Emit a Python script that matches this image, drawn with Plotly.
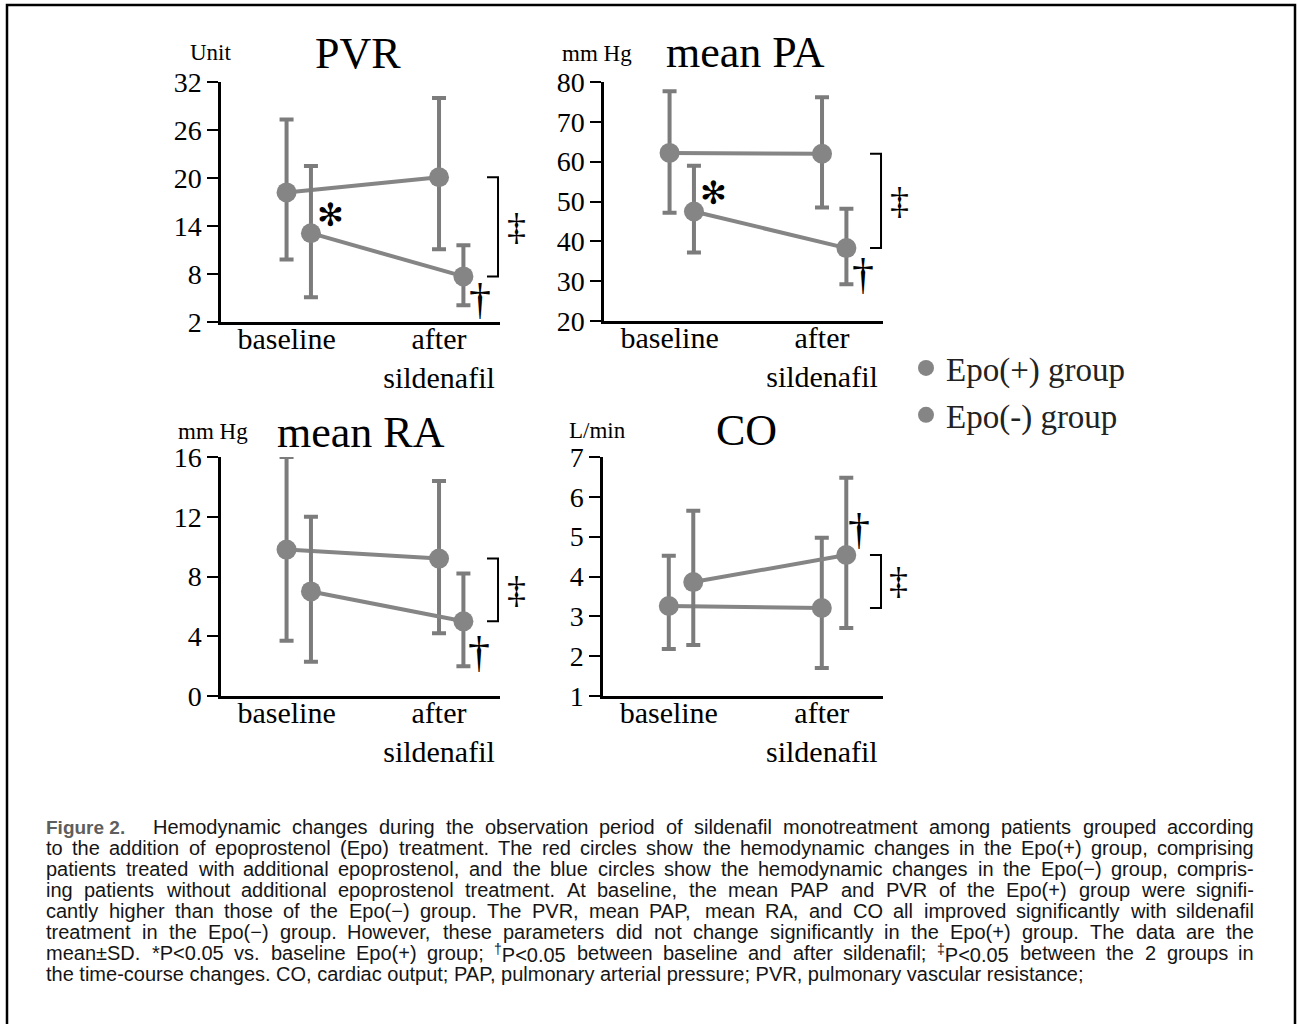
import re
import plotly.graph_objects as go

W, H = 1298, 1024
SERIF = "Liberation Serif, Times New Roman, serif"
SANS = "Liberation Sans, Arial, sans-serif"

# ---------------- data ----------------
groups = ["Epo(+) group", "Epo(-) group"]
categories = ["baseline", "after<br>sildenafil"]
panel_titles = ["PVR", "mean PA", "mean RA", "CO"]
unit_labels = ["Unit", "mm Hg", "mm Hg", "L/min"]

pvr_pos_mean = [18.2, 20.1]
pvr_pos_hi = [27.3, 30.0]
pvr_pos_lo = [9.8, 11.1]
pvr_neg_mean = [13.1, 7.7]
pvr_neg_hi = [21.5, 11.6]
pvr_neg_lo = [5.1, 4.1]
pvr_ticks = [2, 8, 14, 20, 26, 32]

pa_pos_mean = [62.2, 62.0]
pa_pos_hi = [77.7, 76.2]
pa_pos_lo = [47.2, 48.5]
pa_neg_mean = [47.5, 38.3]
pa_neg_hi = [59.0, 48.2]
pa_neg_lo = [37.2, 29.2]
pa_ticks = [20, 30, 40, 50, 60, 70, 80]

ra_pos_mean = [9.8, 9.2]
ra_pos_hi = [16.0, 14.4]
ra_pos_lo = [3.7, 4.2]
ra_neg_mean = [7.0, 5.0]
ra_neg_hi = [12.0, 8.2]
ra_neg_lo = [2.3, 2.0]
ra_ticks = [0, 4, 8, 12, 16]

co_pos_mean = [3.26, 3.21]
co_pos_hi = [4.52, 4.97]
co_pos_lo = [2.18, 1.70]
co_neg_mean = [3.86, 4.54]
co_neg_hi = [5.65, 6.48]
co_neg_lo = [2.28, 2.71]
co_ticks = [1, 2, 3, 4, 5, 6, 7]

caption_label = "Figure 2."
caption_lines = [
    "Hemodynamic changes during the observation period of sildenafil monotreatment among patients grouped according",
    "to the addition of epoprostenol (Epo) treatment. The red circles show the hemodynamic changes in the Epo(+) group, comprising",
    "patients treated with additional epoprostenol, and the blue circles show the hemodynamic changes in the Epo(\u2212) group, compris-",
    "ing patients without additional epoprostenol treatment. At baseline, the mean PAP and PVR of the Epo(+) group were signifi-",
    "cantly higher than those of the Epo(\u2212) group. The PVR, mean PAP, mean RA, and CO all improved significantly with sildenafil",
    "treatment in the Epo(\u2212) group. However, these parameters did not change significantly in the Epo(+) group. The data are the",
    "mean\u00b1SD. *P&lt;0.05 vs. baseline Epo(+) group; <sup>\u2020</sup>P&lt;0.05 between baseline and after sildenafil; <sup>\u2021</sup>P&lt;0.05 between the 2 groups in",
    "the time-course changes. CO, cardiac output; PAP, pulmonary arterial pressure; PVR, pulmonary vascular resistance;",
]

# ---------------- layout helpers (pixels -> paper) ----------------
def px(x):
    return x / W

def py(y):
    return 1 - y / H

# Arial / Liberation Sans advance widths (1/1000 em) used to justify the caption
_AW = {" ": 278, "(": 333, ")": 333, "*": 389, "+": 584, ",": 278, "-": 333, ".": 278, ":": 278,
       ";": 278, "<": 584, "\u00b1": 584, "\u2212": 584, "\u2020": 556, "\u2021": 556}
for ch in "0123456789":
    _AW[ch] = 556
_AW.update(dict(zip("ABCDEFGHIJKLMNOPQRSTUVWXYZ",
                    [667, 667, 722, 722, 667, 611, 778, 722, 278, 500, 667, 556, 833, 722, 778, 667,
                     778, 722, 667, 611, 722, 667, 944, 667, 667, 611])))
_AW.update(dict(zip("abcdefghijklmnopqrstuvwxyz",
                    [556, 556, 500, 556, 556, 278, 556, 556, 222, 222, 500, 222, 833, 556, 556, 556,
                     556, 333, 500, 278, 556, 500, 722, 500, 500, 500])))

def text_width(t, size):
    t = t.replace("&lt;", "<")
    total = 0.0
    for part in re.split(r"(<sup>.*?</sup>)", t):
        if part.startswith("<sup>"):
            inner = part[5:-6]
            total += 0.7 * sum(_AW.get(c, 556) for c in inner)
        else:
            total += sum(_AW.get(c, 556) for c in part)
    return total * size / 1000.0

panels = [
    dict(title=panel_titles[0], unit=unit_labels[0], ticks=pvr_ticks,
         pos=(pvr_pos_mean, pvr_pos_hi, pvr_pos_lo), neg=(pvr_neg_mean, pvr_neg_hi, pvr_neg_lo),
         box=(221, 500, 82, 322), title_xy=(358, 53), unit_xy=(211, 52),
         star=True, dag=(17, -23)),
    dict(title=panel_titles[1], unit=unit_labels[1], ticks=pa_ticks,
         pos=(pa_pos_mean, pa_pos_hi, pa_pos_lo), neg=(pa_neg_mean, pa_neg_hi, pa_neg_lo),
         box=(604, 883, 82, 321), title_xy=(745, 52), unit_xy=(597, 53),
         star=True, dag=(17, -26)),
    dict(title=panel_titles[2], unit=unit_labels[2], ticks=ra_ticks,
         pos=(ra_pos_mean, ra_pos_hi, ra_pos_lo), neg=(ra_neg_mean, ra_neg_hi, ra_neg_lo),
         box=(221, 500, 457, 696), title_xy=(361, 432), unit_xy=(213, 431),
         star=False, dag=(16, -31)),
    dict(title=panel_titles[3], unit=unit_labels[3], ticks=co_ticks,
         pos=(co_pos_mean, co_pos_hi, co_pos_lo), neg=(co_neg_mean, co_neg_hi, co_neg_lo),
         box=(603, 883, 457, 696), title_xy=(746, 430), unit_xy=(597, 430),
         star=False, dag=(13, 25)),
]

XRANGE = [-0.43, 1.40]
NEG_OFFSET = 0.16
PX_PER_UNIT = 279 / (XRANGE[1] - XRANGE[0])
GRAY = "#858585"
BAR_GRAY = "#7c7c7c"

fig = go.Figure()
annotations = []
shapes = []
layout_axes = {}

for i, p in enumerate(panels, start=1):
    xa = "x" if i == 1 else f"x{i}"
    ya = "y" if i == 1 else f"y{i}"
    x0, x1, y0, y1 = p["box"]
    layout_axes["xaxis" if i == 1 else f"xaxis{i}"] = dict(
        domain=[px(x0), px(x1)], anchor=ya, range=XRANGE, automargin=False,
        tickvals=[0, 1], ticktext=categories, ticks="", ticklabelstandoff=-12,
        showline=True, linecolor="black", linewidth=2.5, showgrid=False, zeroline=False,
        tickfont=dict(family=SERIF, size=30, color="black"), fixedrange=True,
    )
    layout_axes["yaxis" if i == 1 else f"yaxis{i}"] = dict(
        domain=[py(y1), py(y0)], anchor=xa, range=[p["ticks"][0], p["ticks"][-1]], automargin=False,
        tickvals=p["ticks"], ticks="outside", ticklen=11, tickwidth=2, tickcolor="black",
        showline=True, linecolor="black", linewidth=2.5, showgrid=False, zeroline=False,
        tickfont=dict(family=SERIF, size=28, color="black"), fixedrange=True,
    )
    for g, key in enumerate(["pos", "neg"]):
        mean, hi, lo = p[key]
        xs = [c + (NEG_OFFSET if g == 1 else 0) for c in range(len(categories))]
        fig.add_trace(go.Scatter(
            x=xs, y=mean, mode="lines", line=dict(color=GRAY, width=4),
            xaxis=xa, yaxis=ya, showlegend=False, hoverinfo="skip"))
        fig.add_trace(go.Scatter(
            x=xs, y=mean, mode="markers", name=groups[g],
            marker=dict(color=GRAY, size=20, line=dict(width=0)),
            error_y=dict(type="data", symmetric=False,
                         array=[h - m for h, m in zip(hi, mean)],
                         arrayminus=[m - l for m, l in zip(mean, lo)],
                         color=BAR_GRAY, thickness=4, width=7),
            xaxis=xa, yaxis=ya, showlegend=(i == 1), legendgroup=groups[g]))

    annotations.append(dict(x=px(p["title_xy"][0]), y=py(p["title_xy"][1]), xref="paper", yref="paper",
                            text=p["title"], showarrow=False, xanchor="center", yanchor="middle",
                            font=dict(family=SERIF, size=44, color="black")))
    annotations.append(dict(x=px(p["unit_xy"][0]), y=py(p["unit_xy"][1]), xref="paper", yref="paper",
                            text=p["unit"], showarrow=False, xanchor="center", yanchor="middle",
                            borderpad=0, font=dict(family=SERIF, size=23, color="black")))

    pos_mean = p["pos"][0]
    neg_mean = p["neg"][0]
    if p["star"]:
        annotations.append(dict(x=NEG_OFFSET, y=neg_mean[0], xref=xa, yref=ya, text="\u273B",
                                showarrow=False, xshift=20, yshift=18,
                                font=dict(family="DejaVu Sans", size=32, color="black")))
    annotations.append(dict(x=1 + NEG_OFFSET, y=neg_mean[1], xref=xa, yref=ya, text="\u2020",
                            showarrow=False, xshift=p["dag"][0], yshift=p["dag"][1],
                            font=dict(family=SERIF, size=44, color="black")))
    bx0 = 1 + 48 / PX_PER_UNIT
    bx1 = 1 + 59 / PX_PER_UNIT
    ya_v, yb_v = pos_mean[1], neg_mean[1]
    shapes.append(dict(type="path", xref=xa, yref=ya,
                       path=f"M {bx0},{ya_v} L {bx1},{ya_v} L {bx1},{yb_v} L {bx0},{yb_v}",
                       line=dict(color="black", width=2)))
    annotations.append(dict(x=1, y=(ya_v + yb_v) / 2, xref=xa, yref=ya, text="\u2021",
                            showarrow=False, xshift=77, yshift=0,
                            font=dict(family=SERIF, size=38, color="black")))

# ---------------- caption (justified word by word) ----------------
CAP_SIZE = 20
CAP_LEFT, CAP_RIGHT = 45, 1253
CAP_COLOR = "#151515"
annotations.append(dict(x=px(CAP_LEFT), y=py(827), xref="paper", yref="paper",
                        text=f"<b>{caption_label}</b>", showarrow=False, xanchor="left", yanchor="middle",
                        borderpad=0, font=dict(family=SANS, size=19, color="#5e5e5e")))
for k, line in enumerate(caption_lines):
    y = py(827 + 21 * k)
    left = 152 if k == 0 else CAP_LEFT
    if k == len(caption_lines) - 1:
        annotations.append(dict(x=px(left), y=y, xref="paper", yref="paper", text=line,
                                showarrow=False, xanchor="left", yanchor="middle", borderpad=0,
                                font=dict(family=SANS, size=CAP_SIZE, color=CAP_COLOR)))
        continue
    words = line.split(" ")
    widths = [text_width(w, CAP_SIZE) for w in words]
    gap = (CAP_RIGHT - left - sum(widths)) / (len(words) - 1)
    xpos = left
    for w, wd in zip(words, widths):
        annotations.append(dict(x=px(xpos), y=y, xref="paper", yref="paper", text=w,
                                showarrow=False, xanchor="left", yanchor="middle", borderpad=0,
                                font=dict(family=SANS, size=CAP_SIZE, color=CAP_COLOR)))
        xpos += wd + gap

# outer frame
shapes.append(dict(type="rect", xref="paper", yref="paper", x0=px(7), x1=px(1295), y0=-0.05, y1=py(5),
                   line=dict(color="black", width=2.5)))

fig.update_layout(
    width=W, height=H, margin=dict(l=0, r=0, t=0, b=0, autoexpand=False),
    paper_bgcolor="white", plot_bgcolor="white",
    showlegend=True,
    legend=dict(x=px(906), y=py(340), xanchor="left", yanchor="top",
                font=dict(family=SERIF, size=33, color="#222222"),
                traceorder="grouped", tracegroupgap=1, bgcolor="rgba(0,0,0,0)",
                itemclick=False, itemdoubleclick=False),
    annotations=annotations, shapes=shapes,
    **layout_axes,
)

fig.write_html("out.html")
